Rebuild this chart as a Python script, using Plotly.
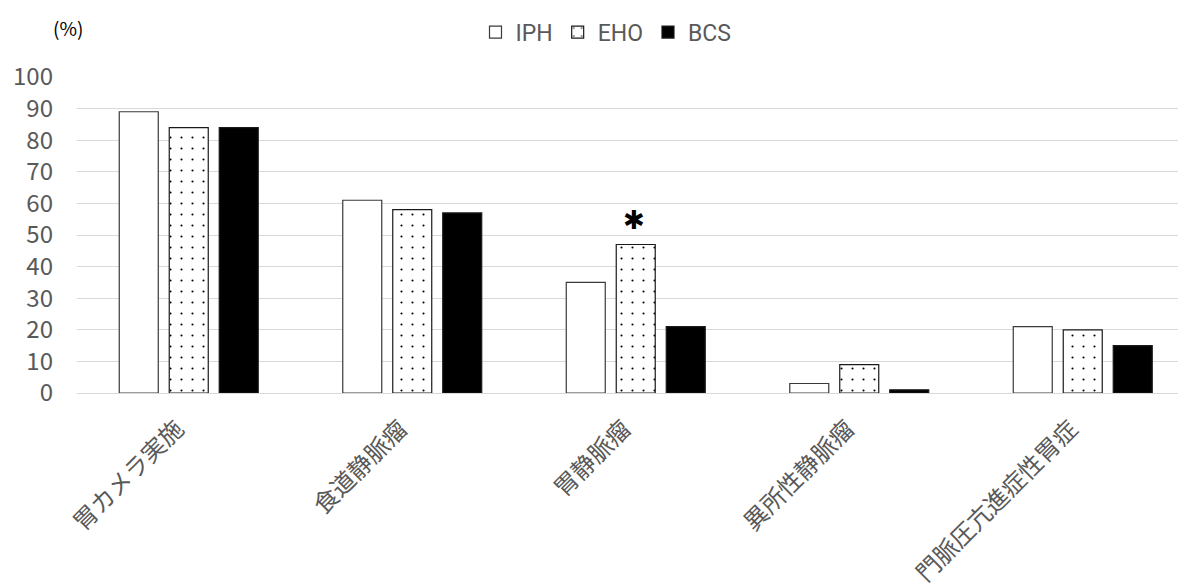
import plotly.graph_objects as go

categories = ["胃カメラ実施", "食道静脈瘤", "胃静脈瘤", "異所性静脈瘤", "門脈圧亢進症性胃症"]
series_names = ["IPH", "EHO", "BCS"]
iph = [89, 61, 35, 3, 21]
eho = [84, 58, 47, 9, 20]
bcs = [84, 57, 21, 1, 15]
y_ticks = [0, 10, 20, 30, 40, 50, 60, 70, 80, 90, 100]
sig_category = "胃静脈瘤"
sig_value = 55.5

grey = "#595959"
fig = go.Figure()
fig.add_trace(go.Bar(name=series_names[0], x=categories, y=iph,
                     marker=dict(color="white", line=dict(color="#3a3a3a", width=1.2))))
fig.add_trace(go.Bar(name=series_names[1], x=categories, y=eho,
                     marker=dict(color="white", line=dict(color="#1a1a1a", width=1.2),
                                 pattern=dict(shape=".", fgcolor="black", bgcolor="white",
                                              size=11, solidity=0.03, fillmode="replace"))))
fig.add_trace(go.Bar(name=series_names[2], x=categories, y=bcs,
                     marker=dict(color="black", line=dict(color="#1a1a1a", width=1.2))))

fig.add_annotation(x=sig_category, y=sig_value, xref="x", yref="y", xshift=-2,
                   text="✱", showarrow=False, font=dict(size=26, color="black"),
                   xanchor="center", yanchor="middle")
fig.add_annotation(x=-0.008, y=1.158, xref="paper", yref="paper", text="(%)",
                   showarrow=False, font=dict(size=19, color="black"),
                   xanchor="center", yanchor="middle")

fig.update_layout(
    width=1178, height=579,
    margin=dict(l=69, r=0, t=69, b=194),
    plot_bgcolor="white", paper_bgcolor="white",
    barmode="group", bargap=0.329, bargroupgap=0.22,
    font=dict(family="Noto Sans CJK JP, Noto Sans, sans-serif", color=grey),
    legend=dict(orientation="h", x=0.477, xanchor="center", y=1.142, yanchor="middle",
                font=dict(size=23, color=grey, family="Roboto, Noto Sans, sans-serif"),
                traceorder="normal"),
    showlegend=True,
)
fig.update_xaxes(range=[-0.5, 4.462], tickangle=-45, tickfont=dict(size=24, color=grey),
                 showline=False, ticks="", ticklabelshift=-12, ticklabelstandoff=16)
fig.update_yaxes(range=[0, 100], tickvals=y_ticks, showgrid=True, gridcolor="#d9d9d9",
                 gridwidth=1, zeroline=True, zerolinecolor="#d9d9d9", zerolinewidth=1,
                 tickfont=dict(size=24, color=grey), ticklabelstandoff=23)

fig.write_html("out.html")
